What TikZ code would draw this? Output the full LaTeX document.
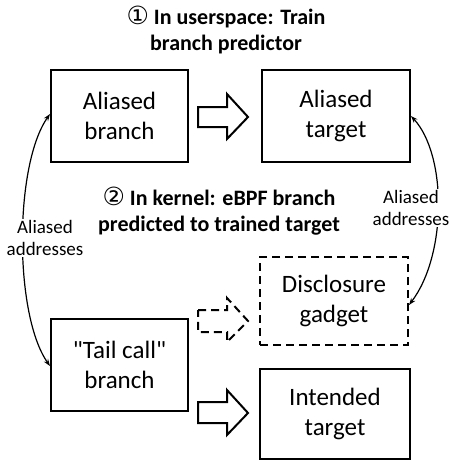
\documentclass[tikz,border=0pt]{standalone}
\usepackage{fontspec}
\setmainfont{Carlito}
\newfontfamily\plainfont{Carlito}
\newfontfamily\symfont{DejaVu Sans}
\usetikzlibrary{arrows.meta}
\begin{document}
\begin{tikzpicture}[x=1pt,y=-1pt,
  box/.style={draw=black,line width=2pt,minimum width=137pt,minimum height=92pt,align=center,inner sep=0pt,font=\fontsize{25}{30}\selectfont},
  dbox/.style={box,dash pattern=on 8pt off 5pt},
  title/.style={align=center,font=\fontsize{22}{26}\selectfont\bfseries},
  small/.style={align=center,fill=white,inner sep=1pt,font=\fontsize{19}{22}\selectfont},
  blockarrow/.style={draw=black,line width=2pt,line join=miter,fill=white},
  alias/.style={draw=black,line width=1.2pt,{Stealth[length=7pt,width=5pt]}-{Stealth[length=7pt,width=5pt]}}
]
\useasboundingbox (0,0) rectangle (451,460);

\node[title] (t1) at (226,30) {{\symfont\fontsize{25}{26}\selectfont\mdseries ①} In userspace: Train\\branch predictor};

\node[box] (ab) at (119.5,116) {Aliased\\branch};
\node[box,minimum width=148pt] (at) at (336,116) {Aliased\\target};
\node[dbox,minimum width=148pt,minimum height=88pt] (dg) at (334,301) {Disclosure\\gadget};
\node[box] (tc) at (119.5,364.5) {{\plainfont "Tail call"}\\branch};
\node[box,minimum width=150pt,minimum height=90pt] (it) at (335,414) {Intended\\target};

\node[title] (t2) at (219,211) {{\symfont\fontsize{25}{26}\selectfont\mdseries ②} In kernel: eBPF branch\\predicted to trained target};

% block arrows
\draw[blockarrow] (198,107) -- (227,107) -- (227,94) -- (248,117) -- (227,139) -- (227,127) -- (198,127) -- cycle;
\draw[blockarrow,dash pattern=on 8pt off 5pt] (198,310) -- (227,310) -- (227,298) -- (248,321) -- (227,342) -- (227,332) -- (198,332) -- cycle;
\draw[blockarrow] (198,402) -- (227,402) -- (227,390) -- (248,413) -- (227,435) -- (227,423) -- (198,423) -- cycle;

% aliased addresses arrows
\coordinate (abw) at ([yshift=2pt]ab.west);
\coordinate (tcw) at ([yshift=-1.5pt]tc.west);
\draw[alias] (abw) .. controls (14,165) and (14,315) .. (tcw);
\coordinate (ate) at (at.east);
\coordinate (dge) at ([yshift=-4pt]dg.east);
\draw[alias] (ate) .. controls (447,155) and (447,255) .. (dge);

\node[small] (l1) at (45,238) {Aliased\\addresses};
\node[small] (l2) at (411,208) {Aliased\\addresses};
\end{tikzpicture}
\end{document}
